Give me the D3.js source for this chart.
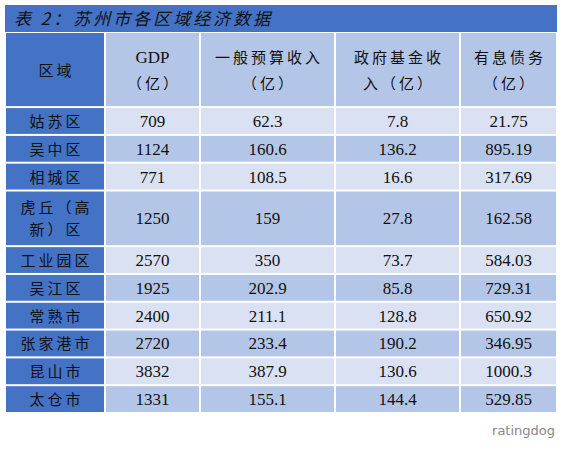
<!DOCTYPE html>
<html>
<head>
<meta charset="utf-8">
<script src="https://cdn.jsdelivr.net/npm/d3@7"></script>
<style>
body { margin: 0; background: #fff; }
text { font-family: "Liberation Serif", "Noto Sans CJK SC", serif; fill: #111; }
</style>
</head>
<body>
<svg id="chart" width="565" height="456"></svg>
<script>
var title = "表 2：苏州市各区域经济数据";
var headers = [["区域"], ["GDP", "（亿）"], ["一般预算收入", "（亿）"], ["政府基金收", "入（亿）"], ["有息债务", "（亿）"]];
var regions = [["姑苏区"], ["吴中区"], ["相城区"], ["虎丘（高", "新）区"], ["工业园区"], ["吴江区"], ["常熟市"], ["张家港市"], ["昆山市"], ["太仓市"]];
var gdp = ["709", "1124", "771", "1250", "2570", "1925", "2400", "2720", "3832", "1331"];
var budget = ["62.3", "160.6", "108.5", "159", "350", "202.9", "211.1", "233.4", "387.9", "155.1"];
var fund = ["7.8", "136.2", "16.6", "27.8", "73.7", "85.8", "128.8", "190.2", "130.6", "144.4"];
var debt = ["21.75", "895.19", "317.69", "162.58", "584.03", "729.31", "650.92", "346.95", "1000.3", "529.85"];

var svg = d3.select("#chart");
var colEdges = [5, 105, 200, 335, 460, 557];
var x = d3.scaleOrdinal().domain(d3.range(5)).range(colEdges.slice(0, 5));
function cw(i) { return colEdges[i + 1] - colEdges[i]; }

// rows: header + data, heights in units
var units = [2.7].concat(regions.map(function(r) { return r.length > 1 ? 2 : 1; }));
var cum = [0];
units.forEach(function(u) { cum.push(cum[cum.length - 1] + u); });
var y = d3.scaleLinear().domain([0, cum[cum.length - 1]]).range([32, 413]);

// title bar
svg.append("rect").attr("x", 5).attr("y", 5).attr("width", 552).attr("height", 27).attr("fill", "#4472C4");
svg.append("text").attr("x", 14).attr("y", 25).attr("font-size", 17).attr("font-style", "italic")
  .style("letter-spacing", "3px").style("font-family", "'Noto Sans CJK SC'").text(title);

var rows = [headers].concat(regions.map(function(r, i) {
  return [r, [gdp[i]], [budget[i]], [fund[i]], [debt[i]]];
}));

rows.forEach(function(row, ri) {
  var y0 = y(cum[ri]), y1 = y(cum[ri + 1]);
  row.forEach(function(lines, ci) {
    var fill;
    if (ci === 0) fill = "#4472C4";
    else if (ri === 0) fill = "#B4C6E7";
    else fill = (ri % 2 === 1) ? "#D9E1F2" : "#B4C6E7";
    svg.append("rect").attr("x", x(ci) + 1).attr("y", y0 + 1)
      .attr("width", cw(ci) - 2).attr("height", y1 - y0 - 2).attr("fill", fill);
    var cy = (y0 + y1) / 2, lh = ri === 0 ? 26 : 22;
    lines.forEach(function(t, li) {
      var cjk = /[\u4e00-\u9fff]/.test(t);
      svg.append("text").attr("x", x(ci) + cw(ci) / 2 + (cjk ? 1.5 : 0))
        .attr("y", cy + (li - (lines.length - 1) / 2) * lh + 6)
        .attr("text-anchor", "middle").attr("font-size", cjk ? 15 : 17)
        .style("letter-spacing", cjk ? "3px" : "0px").text(t);
    });
  });
});

// watermark
svg.append("text").attr("x", 555).attr("y", 435).attr("text-anchor", "end")
  .attr("font-size", 13).style("font-family", "'DejaVu Sans'").style("fill", "#888").text("ratingdog");
</script>
</body>
</html>
